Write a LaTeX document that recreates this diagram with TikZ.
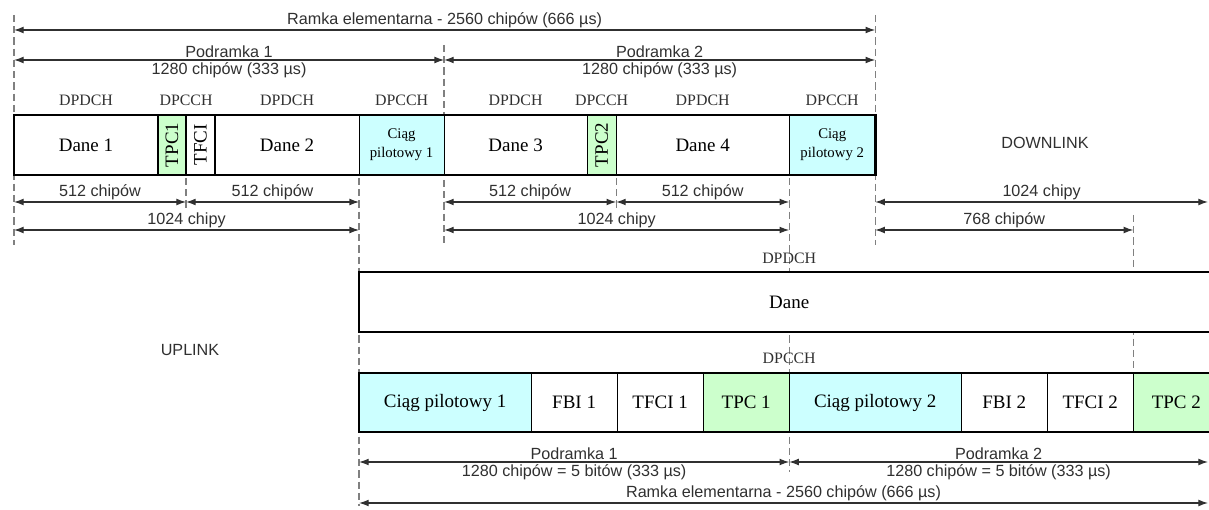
\documentclass[tikz,border=0pt]{standalone}
\usepackage{fontspec}
\setmainfont{Liberation Sans}
\newfontfamily\boxfont{Liberation Serif}
\usetikzlibrary{arrows.meta, positioning}

\definecolor{pilotcyan}{HTML}{CCFFFF}
\definecolor{tpcgreen}{HTML}{CCFFCC}
\definecolor{ink}{HTML}{303030}

\pgfdeclarelayer{background}
\pgfsetlayers{background,main}

\tikzset{
    cell/.style={draw, line width=0.8pt, fill=white, minimum height=1.5cm, inner sep=1pt, outer sep=0pt, align=center, font=\boxfont\fontsize{13.5}{15}\selectfont},
    pilot/.style={fill=pilotcyan},
    tpc/.style={fill=tpcgreen},
    small/.style={font=\boxfont\fontsize{10.5}{13.5}\selectfont},
    frame/.style={line width=2pt},
    chan/.style={font=\boxfont\fontsize{11.3}{13}\selectfont, text=ink, inner sep=0pt},
    lbl/.style={font=\fontsize{11.5}{13}\selectfont, text=ink, inner sep=1.2pt},
    dim/.style={{Latex[length=2.4mm,width=1.7mm]}-{Latex[length=2.4mm,width=1.7mm]}, line width=0.8pt, draw=ink},
    guide/.style={draw=gray, line width=0.9pt, dash pattern=on 5pt off 3pt},
}

\begin{document}
\begin{tikzpicture}[x=0.025cm, y=-0.025cm]
    \useasboundingbox (0,0) rectangle (1209,510);
    \clip (0,0) rectangle (1209,510);

    % levels
    \coordinate (yr) at (0,30);
    \coordinate (ys) at (0,60);
    \coordinate (ych) at (0,100);
    \coordinate (ya) at (0,202);
    \coordinate (yb) at (0,230);
    \coordinate (yup) at (0,462);
    \coordinate (yupr) at (0,503);
    \coordinate (edge) at (1208,0);

    % downlink slot
    \node[cell, minimum width=3.6cm] (d1) at (86,145) {Dane 1};
    \node[cell, tpc, minimum width=0.7cm, right=0pt of d1] (tpc1) {\rotatebox{90}{TPC1}};
    \node[cell, minimum width=0.725cm, right=0pt of tpc1] (tfci1) {\rotatebox{90}{TFCI}};
    \node[cell, minimum width=3.6cm, right=0pt of tfci1] (d2) {Dane 2};
    \node[cell, pilot, small, minimum width=2.125cm, right=0pt of d2] (pil1) {Ciąg\\pilotowy 1};
    \node[cell, minimum width=3.575cm, right=0pt of pil1] (d3) {Dane 3};
    \node[cell, tpc, minimum width=0.725cm, right=0pt of d3] (tpc2) {\rotatebox{90}{TPC2}};
    \node[cell, minimum width=4.325cm, right=0pt of tpc2] (d4) {Dane 4};
    \node[cell, pilot, small, minimum width=2.15cm, right=0pt of d4] (pil2) {Ciąg\\pilotowy 2};
    \draw[frame] (d1.north west) rectangle (pil2.south east);

    \node[chan] at (d1.north |- ych) {DPDCH};
    \node[chan] at (tpc1.north east |- ych) {DPCCH};
    \node[chan] at (d2.north |- ych) {DPDCH};
    \node[chan] at (pil1.north |- ych) {DPCCH};
    \node[chan] at (d3.north |- ych) {DPDCH};
    \node[chan] at (tpc2.north |- ych) {DPCCH};
    \node[chan] at (d4.north |- ych) {DPDCH};
    \node[chan] at (pil2.north |- ych) {DPCCH};

    \node[lbl] (down) at (1045,143) {DOWNLINK};
    \node[lbl] (up) at (190,350) {UPLINK};

    % uplink
    \node[cell, frame, minimum width=21.5cm, anchor=west] (udane) at (d2.east |- 0,302) {Dane};
    \node[chan] (udpdch) at (d4.east |- 0,258) {DPDCH};
    \node[chan] (udpcch) at (d4.east |- 0,358) {DPCCH};

    \node[cell, pilot, minimum width=4.3cm, minimum height=1.475cm, anchor=west] (upil1) at (d2.east |- 0,402.5) {Ciąg pilotowy 1};
    \node[cell, minimum width=2.15cm, minimum height=1.475cm, right=0pt of upil1] (ufbi1) {FBI 1};
    \node[cell, minimum width=2.15cm, minimum height=1.475cm, right=0pt of ufbi1] (utfci1) {TFCI 1};
    \node[cell, tpc, minimum width=2.15cm, minimum height=1.475cm, right=0pt of utfci1] (utpc1) {TPC 1};
    \node[cell, pilot, minimum width=4.3cm, minimum height=1.475cm, right=0pt of utpc1] (upil2) {Ciąg pilotowy 2};
    \node[cell, minimum width=2.15cm, minimum height=1.475cm, right=0pt of upil2] (ufbi2) {FBI 2};
    \node[cell, minimum width=2.15cm, minimum height=1.475cm, right=0pt of ufbi2] (utfci2) {TFCI 2};
    \node[cell, tpc, minimum width=2.15cm, minimum height=1.475cm, right=0pt of utfci2] (utpc2) {TPC 2};
    \draw[frame] (upil1.north west) rectangle (utpc2.south east);

    % guide lines
    \begin{pgfonlayer}{background}
        \draw[guide] (d1.west |- 0,15) -- (d1.west |- 0,245);
        \draw[guide] (pil2.east |- 0,15) -- (pil2.east |- 0,245);
        \draw[guide] (pil1.east |- 0,45) -- (pil1.east |- 0,245);
        \draw[guide] (tpc1.east |- 0,178) -- (tpc1.east |- 0,210);
        \draw[guide] (tpc2.east |- 0,178) -- (tpc2.east |- 0,210);
        \draw[guide] (d2.east |- 0,178) -- (d2.east |- 0,506);
        \draw[guide] (d4.east |- 0,178) -- (d4.east |- 0,472);
        \draw[guide] (utfci2.north east |- 0,215) -- (utfci2.north east);
    \end{pgfonlayer}

    % downlink dimensions
    \draw[dim] (d1.west |- yr) -- node[lbl, above] {Ramka elementarna - 2560 chipów (666 µs)} (pil2.east |- yr);
    \draw[dim] (d1.west |- ys) -- node[lbl, above] {Podramka 1} node[lbl, below] {1280 chipów (333 µs)} (pil1.east |- ys);
    \draw[dim] (pil1.east |- ys) -- node[lbl, above] {Podramka 2} node[lbl, below] {1280 chipów (333 µs)} (pil2.east |- ys);

    \draw[dim] (d1.west |- ya) -- node[lbl, above] {512 chipów} (tpc1.east |- ya);
    \draw[dim] (tpc1.east |- ya) -- node[lbl, above] {512 chipów} (d2.east |- ya);
    \draw[dim] (d1.west |- yb) -- node[lbl, above] {1024 chipy} (d2.east |- yb);
    \draw[dim] (d3.west |- ya) -- node[lbl, above] {512 chipów} (tpc2.east |- ya);
    \draw[dim] (tpc2.east |- ya) -- node[lbl, above] {512 chipów} (d4.east |- ya);
    \draw[dim] (d3.west |- yb) -- node[lbl, above] {1024 chipy} (d4.east |- yb);
    \draw[dim] (pil2.east |- ya) -- node[lbl, above] {1024 chipy} (edge |- ya);
    \draw[dim] (pil2.east |- yb) -- node[lbl, above] {768 chipów} (utfci2.east |- yb);

    % uplink dimensions
    \draw[dim] (upil1.west |- yup) -- node[lbl, above] {Podramka 1} node[lbl, below] {1280 chipów = 5 bitów (333 µs)} (utpc1.east |- yup);
    \draw[dim] (upil2.west |- yup) -- node[lbl, above] {Podramka 2} node[lbl, below] {1280 chipów = 5 bitów (333 µs)} (edge |- yup);
    \draw[dim] (upil1.west |- yupr) -- node[lbl, above] {Ramka elementarna - 2560 chipów (666 µs)} (edge |- yupr);
\end{tikzpicture}
\end{document}
